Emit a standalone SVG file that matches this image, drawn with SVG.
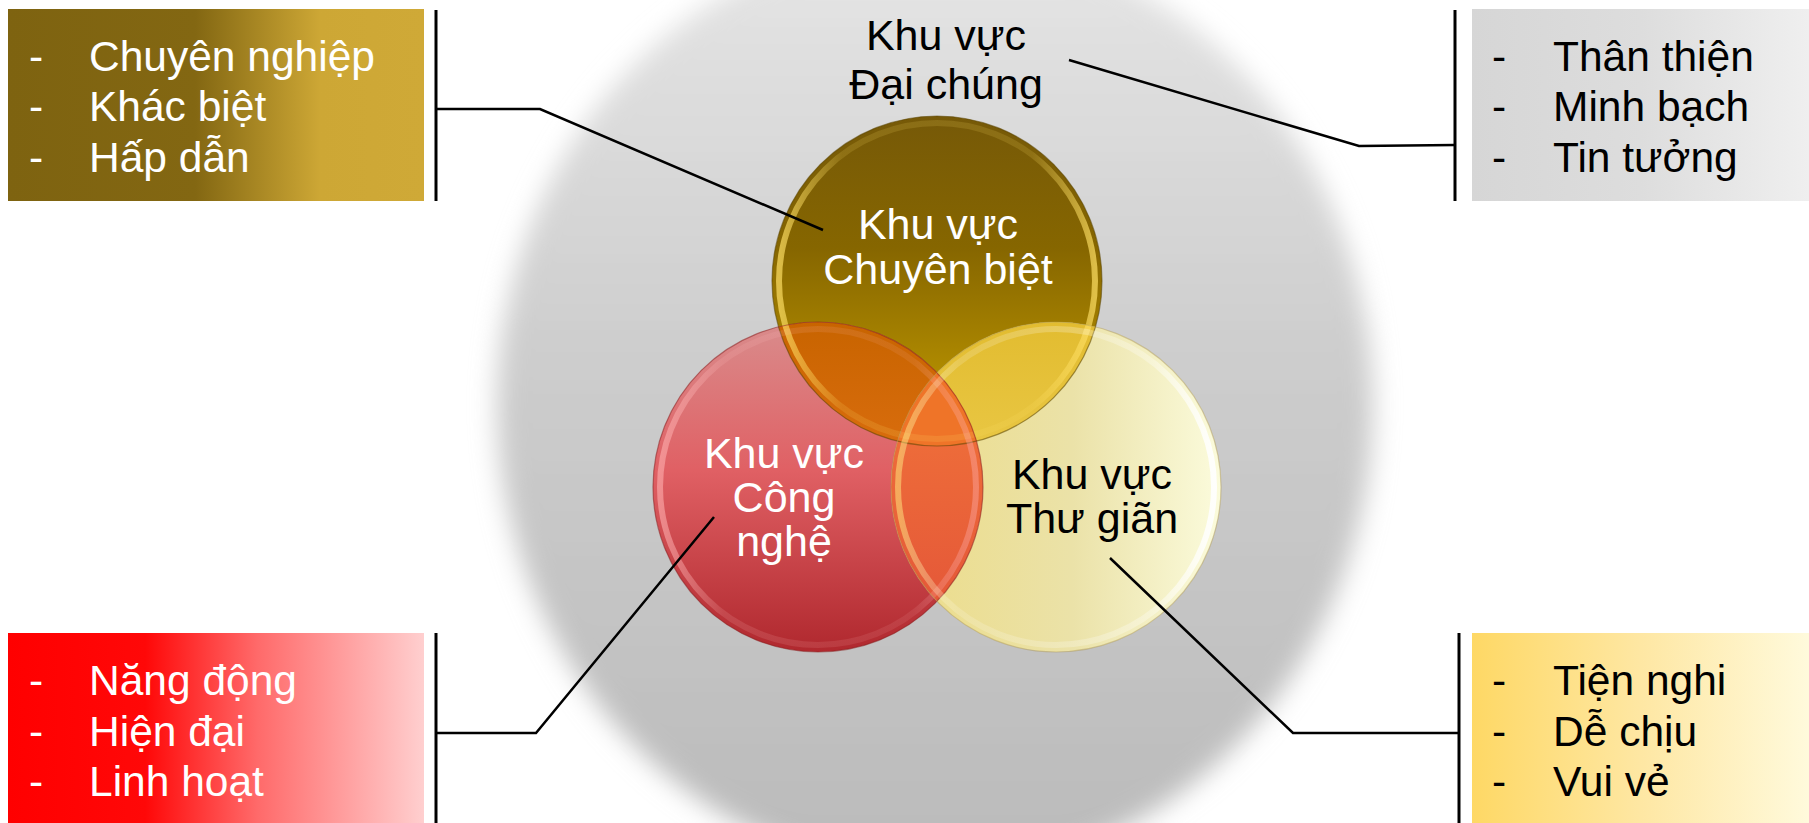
<svg xmlns="http://www.w3.org/2000/svg" width="1809" height="823" viewBox="0 0 1809 823">
<style>
  .t { font-family: "Liberation Sans", Arial, sans-serif; font-size: 43px; }
  .l { font-size: 42.5px; }
  .w { fill: #ffffff; }
  .k { fill: #000000; }
  .mid { text-anchor: middle; }
  .conn { fill: none; stroke: #000000; stroke-width: 2.5; stroke-linejoin: miter; }
  .bar { fill: none; stroke: #000000; stroke-width: 3; }
  .rim { fill: none; stroke-width: 1.2; }
  .bevel { fill: none; stroke-width: 6; }
</style>
<defs>
  <filter id="soft" x="-20%" y="-20%" width="140%" height="140%">
    <feGaussianBlur stdDeviation="13"/>
  </filter>
  <linearGradient id="gGray" x1="0" y1="0" x2="0" y2="1">
    <stop offset="0" stop-color="#e6e6e6"/>
    <stop offset="0.45" stop-color="#cdcdcd"/>
    <stop offset="1" stop-color="#bababa"/>
  </linearGradient>
  <linearGradient id="gTL" x1="0" y1="0" x2="1" y2="0">
    <stop offset="0" stop-color="#7e6310"/>
    <stop offset="0.45" stop-color="#836712"/>
    <stop offset="0.75" stop-color="#cda735"/>
    <stop offset="1" stop-color="#cfa937"/>
  </linearGradient>
  <linearGradient id="gTR" x1="0" y1="0" x2="1" y2="0">
    <stop offset="0" stop-color="#d6d6d6"/>
    <stop offset="0.5" stop-color="#dddddd"/>
    <stop offset="1" stop-color="#efefef"/>
  </linearGradient>
  <linearGradient id="gBL" x1="0" y1="0" x2="1" y2="0">
    <stop offset="0" stop-color="#ff0000"/>
    <stop offset="0.33" stop-color="#ff0808"/>
    <stop offset="0.6" stop-color="#ff6a6a"/>
    <stop offset="1" stop-color="#ffcfcf"/>
  </linearGradient>
  <linearGradient id="gBR" x1="0" y1="0" x2="1" y2="0">
    <stop offset="0" stop-color="#fed865"/>
    <stop offset="0.5" stop-color="#fee7a3"/>
    <stop offset="1" stop-color="#fffadc"/>
  </linearGradient>
  <linearGradient id="gGold" x1="0" y1="0" x2="0" y2="1">
    <stop offset="0" stop-color="#765908"/>
    <stop offset="0.4" stop-color="#866600"/>
    <stop offset="1" stop-color="#c8a000"/>
  </linearGradient>
  <linearGradient id="gRed" x1="0" y1="0" x2="0" y2="1">
    <stop offset="0" stop-color="#d98c8c"/>
    <stop offset="0.45" stop-color="#e06064"/>
    <stop offset="1" stop-color="#b0282e"/>
  </linearGradient>
  <linearGradient id="gYel" x1="0" y1="0" x2="1" y2="0">
    <stop offset="0" stop-color="#ecdc88"/>
    <stop offset="0.55" stop-color="#ebe2a8"/>
    <stop offset="1" stop-color="#fbfbdc"/>
  </linearGradient>
  <linearGradient id="gGR" x1="0" y1="0" x2="0" y2="1">
    <stop offset="0" stop-color="#c86400"/>
    <stop offset="1" stop-color="#f47a22"/>
  </linearGradient>
  <linearGradient id="gGY" x1="0" y1="0" x2="0" y2="1">
    <stop offset="0" stop-color="#e2bc30"/>
    <stop offset="1" stop-color="#f4d862"/>
  </linearGradient>
  <linearGradient id="gRY" x1="0" y1="0" x2="0" y2="1">
    <stop offset="0" stop-color="#f47a3a"/>
    <stop offset="1" stop-color="#e25238"/>
  </linearGradient>
  <linearGradient id="gRingGold" x1="0" y1="0" x2="1" y2="0">
    <stop offset="0" stop-color="#ffe066" stop-opacity="0.7"/>
    <stop offset="0.2" stop-color="#ffe066" stop-opacity="0.15"/>
    <stop offset="0.8" stop-color="#ffe066" stop-opacity="0.15"/>
    <stop offset="1" stop-color="#ffe066" stop-opacity="0.7"/>
  </linearGradient>
  <linearGradient id="gRingRed" x1="0" y1="0" x2="1" y2="0">
    <stop offset="0" stop-color="#ffb0b0" stop-opacity="0.6"/>
    <stop offset="0.2" stop-color="#ffc0c0" stop-opacity="0.15"/>
    <stop offset="0.8" stop-color="#ffc0c0" stop-opacity="0.1"/>
    <stop offset="1" stop-color="#ffb0b0" stop-opacity="0.4"/>
  </linearGradient>
  <linearGradient id="gRingYel" x1="0" y1="0" x2="1" y2="0">
    <stop offset="0" stop-color="#fff080" stop-opacity="0.5"/>
    <stop offset="0.2" stop-color="#ffffff" stop-opacity="0.15"/>
    <stop offset="0.8" stop-color="#ffffff" stop-opacity="0.3"/>
    <stop offset="1" stop-color="#ffffff" stop-opacity="0.9"/>
  </linearGradient>
  <clipPath id="cG"><circle cx="937" cy="281" r="165"/></clipPath>
  <clipPath id="cR"><circle cx="818" cy="487" r="165"/></clipPath>
</defs>

<rect width="1809" height="823" fill="#ffffff"/>

<g id="node-dai-chung">
  <ellipse cx="935" cy="405" rx="438" ry="468" fill="url(#gGray)" filter="url(#soft)"/>
  <text class="t k mid" x="946" y="50">Khu vực</text>
  <text class="t k mid" x="946" y="99">Đại chúng</text>
</g>

<g id="node-chuyen-biet">
  <circle cx="937" cy="281" r="165" fill="url(#gGold)"/>
</g>
<g id="node-cong-nghe">
  <circle cx="818" cy="487" r="165" fill="url(#gRed)"/>
</g>
<g id="node-thu-gian">
  <circle cx="1056" cy="487" r="165" fill="url(#gYel)"/>
</g>

<g id="overlaps">
  <g clip-path="url(#cG)"><circle cx="818" cy="487" r="165" fill="url(#gGR)"/></g>
  <g clip-path="url(#cG)"><circle cx="1056" cy="487" r="165" fill="url(#gGY)"/></g>
  <g clip-path="url(#cR)"><circle cx="1056" cy="487" r="165" fill="url(#gRY)"/></g>
  <g clip-path="url(#cG)"><g clip-path="url(#cR)"><circle cx="1056" cy="487" r="165" fill="#ef7428"/></g></g>
</g>

<g id="bevels">
  <circle class="bevel" cx="937" cy="281" r="158" stroke="url(#gRingGold)"/>
  <circle class="rim" cx="937" cy="281" r="165" stroke="#5a4400" stroke-opacity="0.55"/>
  <circle class="bevel" cx="818" cy="487" r="158" stroke="url(#gRingRed)"/>
  <circle class="rim" cx="818" cy="487" r="165" stroke="#8a2020" stroke-opacity="0.55"/>
  <circle class="bevel" cx="1056" cy="487" r="158" stroke="url(#gRingYel)"/>
  <circle class="rim" cx="1056" cy="487" r="165" stroke="#b09a50" stroke-opacity="0.45"/>
</g>

<g id="labels">
  <text class="t w mid" x="938" y="239">Khu vực</text>
  <text class="t w mid" x="938" y="284">Chuyên biệt</text>
  <text class="t w mid" x="784" y="468">Khu vực</text>
  <text class="t w mid" x="784" y="512">Công</text>
  <text class="t w mid" x="784" y="556">nghệ</text>
  <text class="t k mid" x="1092" y="489">Khu vực</text>
  <text class="t k mid" x="1092" y="533">Thư giãn</text>
</g>

<g id="box-chuyen-biet">
  <rect x="8" y="9" width="416" height="192" fill="url(#gTL)"/>
  <text class="t l w" x="29" y="71">-</text><text class="t l w" x="89" y="71">Chuyên nghiệp</text>
  <text class="t l w" x="29" y="121">-</text><text class="t l w" x="89" y="121">Khác biệt</text>
  <text class="t l w" x="29" y="172">-</text><text class="t l w" x="89" y="172">Hấp dẫn</text>
</g>
<g id="box-dai-chung">
  <rect x="1472" y="9" width="337" height="192" fill="url(#gTR)"/>
  <text class="t l k" x="1492" y="71">-</text><text class="t l k" x="1553" y="71">Thân thiện</text>
  <text class="t l k" x="1492" y="121">-</text><text class="t l k" x="1553" y="121">Minh bạch</text>
  <text class="t l k" x="1492" y="172">-</text><text class="t l k" x="1553" y="172">Tin tưởng</text>
</g>
<g id="box-cong-nghe">
  <rect x="8" y="633" width="416" height="190" fill="url(#gBL)"/>
  <text class="t l w" x="29" y="695">-</text><text class="t l w" x="89" y="695">Năng động</text>
  <text class="t l w" x="29" y="746">-</text><text class="t l w" x="89" y="746">Hiện đại</text>
  <text class="t l w" x="29" y="796">-</text><text class="t l w" x="89" y="796">Linh hoạt</text>
</g>
<g id="box-thu-gian">
  <rect x="1472" y="633" width="337" height="190" fill="url(#gBR)"/>
  <text class="t l k" x="1492" y="695">-</text><text class="t l k" x="1553" y="695">Tiện nghi</text>
  <text class="t l k" x="1492" y="746">-</text><text class="t l k" x="1553" y="746">Dễ chịu</text>
  <text class="t l k" x="1492" y="796">-</text><text class="t l k" x="1553" y="796">Vui vẻ</text>
</g>

<g id="connectors">
  <line class="bar" x1="436" y1="10" x2="436" y2="201"/>
  <polyline class="conn" points="436,109 540,109 823,230"/>
  <line class="bar" x1="1455" y1="10" x2="1455" y2="201"/>
  <polyline class="conn" points="1069,60 1359,146 1455,145"/>
  <line class="bar" x1="436" y1="633" x2="436" y2="823"/>
  <polyline class="conn" points="436,733 536,733 714,517"/>
  <line class="bar" x1="1459" y1="633" x2="1459" y2="823"/>
  <polyline class="conn" points="1110,558 1293,733 1459,733"/>
</g>
</svg>
